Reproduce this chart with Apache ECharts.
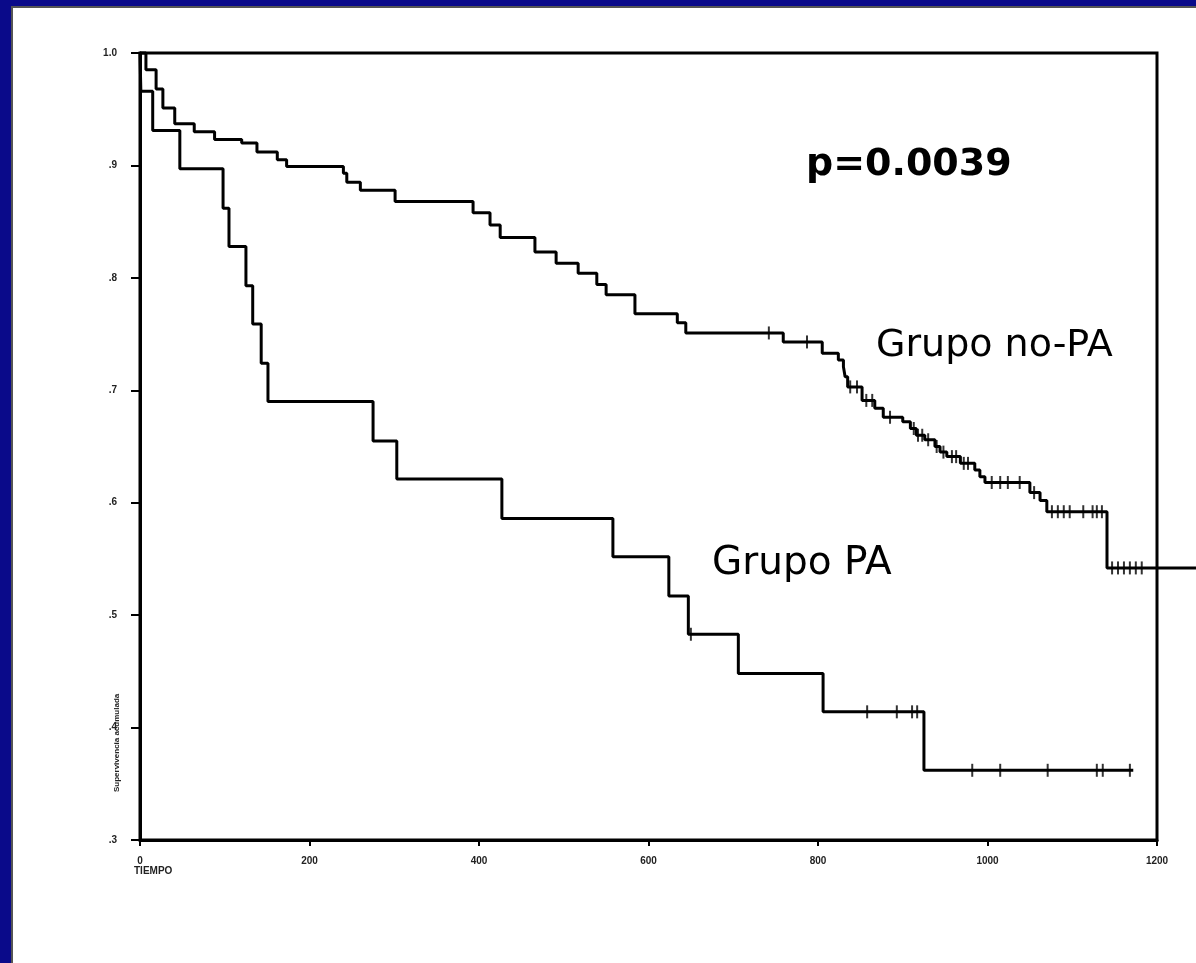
<!DOCTYPE html>
<html>
<head>
<meta charset="utf-8">
<title>Supervivencia</title>
<script src="https://cdn.jsdelivr.net/npm/echarts@6/dist/echarts.min.js"></script>
<style>
    html, body {margin:0;padding:0;background:#fff;}
    #chart {width:1196px;height:963px;}
</style>
</head>
<body>
<div id="chart"></div>
<script>
// eje
var xTicks = [0, 200, 400, 600, 800, 1000, 1200];
var yTicks = [0.3, 0.4, 0.5, 0.6, 0.7, 0.8, 0.9, 1.0];

// Grupo PA
var paTimes = [0, 1, 15, 47, 98, 105, 125, 133, 143, 151, 275, 303, 427, 558, 624, 647, 706, 806, 925, 1172];
var paSurv  = [1, 0.966, 0.931, 0.897, 0.862, 0.828, 0.793, 0.759, 0.724, 0.690, 0.655, 0.621, 0.586, 0.552, 0.517, 0.483, 0.448, 0.414, 0.362, 0.362];
var paCens  = [650, 858, 893, 911, 917, 982, 1015, 1071, 1129, 1136, 1168];

// Grupo no-PA (la ultima linea sale del recuadro)
var npTimes = [0, 7, 19, 27, 41, 64, 88, 120, 138, 162, 173, 240, 244, 260, 301, 393, 413, 425, 466, 491, 517, 539, 550, 584, 634, 644, 759, 805, 824, 830, 832, 835, 852, 867, 877, 900, 909, 916, 926, 938, 944, 952, 968, 985, 991, 997, 1050, 1062, 1070, 1141, 1246];
var npSurv  = [1, 0.985, 0.968, 0.951, 0.937, 0.930, 0.923, 0.920, 0.912, 0.905, 0.899, 0.893, 0.885, 0.878, 0.868, 0.858, 0.847, 0.836, 0.823, 0.813, 0.804, 0.794, 0.785, 0.768, 0.760, 0.751, 0.743, 0.733, 0.727, 0.721, 0.712, 0.703, 0.691, 0.684, 0.676, 0.672, 0.666, 0.660, 0.656, 0.650, 0.645, 0.641, 0.635, 0.629, 0.623, 0.618, 0.609, 0.602, 0.592, 0.542, 0.542];
var npCens  = [742, 787, 838, 846, 857, 864, 885, 913, 918, 923, 930, 940, 948, 958, 963, 972, 977, 1005, 1015, 1024, 1038, 1055, 1076, 1083, 1090, 1097, 1113, 1124, 1129, 1135, 1147, 1154, 1161, 1168, 1175, 1182];

var W = 1196, gLeft = 140, gRight = 39, gTop = 53, gBottom = 123;
var xMax = xTicks[xTicks.length - 1];
// segundo grid hasta el borde, misma escala
var xMaxWide = xMax * (W - gLeft) / (W - gLeft - gRight);

function pairs(t, s) {
    var out = [];
    for (var i = 0; i < t.length; i++) out.push([t[i], s[i]]);
    return out;
}

// valor de la curva escalonada en el tiempo del censurado
function censPoints(cens, t, s) {
    return cens.map(function (c) {
        var v = s[0];
        for (var i = 0; i < t.length; i++) { if (t[i] <= c) v = s[i]; }
        return [c, v];
    });
}

var lineStyle = {color: '#000', width: 3};
var censSymbol = {symbol: 'rect', symbolSize: [2, 13], itemStyle: {color: '#000'}};
var labelFont = {fontSize: 10, fontWeight: 'bold', color: '#222', fontFamily: 'Liberation Sans'};

var option = {
    animation: false,
    backgroundColor: '#fff',
    grid: [
        {left: gLeft, right: gRight, top: gTop, bottom: gBottom, show: true, borderColor: '#000', borderWidth: 3, backgroundColor: '#fff'},
        {left: gLeft, right: 0, top: gTop, bottom: gBottom, show: false}
    ],
    xAxis: [{
        type: 'value', min: xTicks[0], max: xMax, interval: 200,
        axisLine: {lineStyle: {color: '#000', width: 3}},
        axisTick: {show: true, length: 6, lineStyle: {color: '#000', width: 2}},
        splitLine: {show: false},
        axisLabel: Object.assign({margin: 16, formatter: function (v) { return String(v); }}, labelFont)
    }, {
        gridIndex: 1, type: 'value', min: 0, max: xMaxWide, show: false, splitLine: {show: false}
    }],
    yAxis: [{
        type: 'value', min: yTicks[0], max: yTicks[yTicks.length - 1], interval: 0.1,
        axisLine: {show: true, lineStyle: {color: '#000', width: 3}},
        axisTick: {show: true, length: 9, lineStyle: {color: '#000', width: 2}},
        splitLine: {show: false},
        axisLabel: Object.assign({
            margin: 23,
            formatter: function (v) { return v >= 0.999 ? '1.0' : '.' + Math.round(v * 10); }
        }, labelFont)
    }, {
        gridIndex: 1, type: 'value', min: yTicks[0], max: yTicks[yTicks.length - 1], show: false, splitLine: {show: false}
    }],
    graphic: [
        {type: 'rect', left: 0, top: 0, shape: {width: 11, height: 963}, style: {fill: '#0a0a8a'}},
        {type: 'rect', left: 0, top: 0, shape: {width: 1196, height: 6}, style: {fill: '#0a0a8a'}},
        {type: 'rect', left: 11, top: 6, shape: {width: 2, height: 957}, style: {fill: '#555'}},
        {type: 'rect', left: 11, top: 6, shape: {width: 1185, height: 2}, style: {fill: '#555'}},
        {type: 'text', left: 806, top: 146, style: {text: 'p=0.0039', font: 'bold 38px "DejaVu Sans"', fill: '#000'}},
        {type: 'text', left: 876, top: 327, style: {text: 'Grupo no-PA', font: '38px "DejaVu Sans"', fill: '#000'}},
        {type: 'text', left: 712, top: 544, style: {text: 'Grupo PA', font: '39px "DejaVu Sans"', fill: '#000'}},
        {type: 'text', left: 134, top: 866, style: {text: 'TIEMPO', font: 'bold 10px "Liberation Sans"', fill: '#222'}},
        {type: 'text', x: 113, y: 792, rotation: Math.PI / 2, style: {text: 'Supervivencia acumulada', font: 'bold 8px "Liberation Sans"', fill: '#222'}}
    ],
    series: [
        {name: 'Grupo PA', type: 'line', step: 'end', showSymbol: false, lineStyle: lineStyle, data: pairs(paTimes, paSurv)},
        {name: 'Grupo no-PA', type: 'line', step: 'end', showSymbol: false, clip: false, xAxisIndex: 1, yAxisIndex: 1, lineStyle: lineStyle, data: pairs(npTimes, npSurv)},
        Object.assign({type: 'scatter', z: 3, data: censPoints(paCens, paTimes, paSurv)}, censSymbol),
        Object.assign({type: 'scatter', z: 3, data: censPoints(npCens, npTimes, npSurv)}, censSymbol)
    ]
};

echarts.init(document.getElementById('chart')).setOption(option);
</script>
</body>
</html>
